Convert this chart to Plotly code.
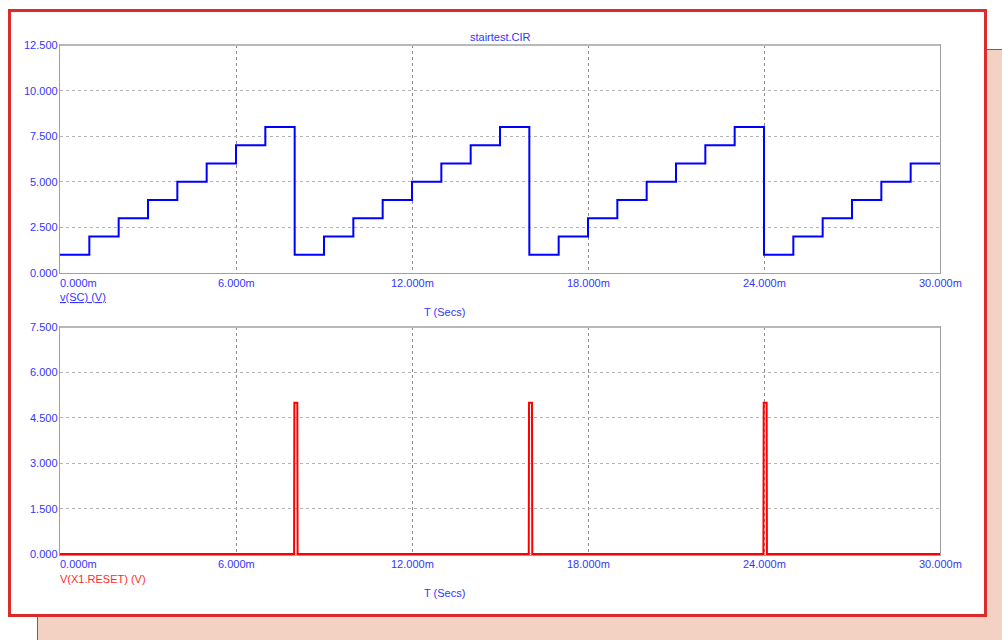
import plotly.graph_objects as go

# ---- data (time in ms) ----
sc_time = [0, 1, 2, 3, 4, 5, 6, 7, 8, 9, 10, 11, 12, 13, 14, 15, 16,
           17, 18, 19, 20, 21, 22, 23, 24, 25, 26, 27, 28, 29, 30]
sc_volts = [1, 2, 3, 4, 5, 6, 7, 8, 1, 2, 3, 4, 5, 6, 7, 8, 1,
            2, 3, 4, 5, 6, 7, 8, 1, 2, 3, 4, 5, 6, 6]

reset_time = [0, 7.98, 7.99, 8.09, 8.10,
              15.98, 15.99, 16.09, 16.10,
              23.98, 23.99, 24.09, 24.10, 30]
reset_volts = [0, 0, 5, 5, 0,
               0, 5, 5, 0,
               0, 5, 5, 0, 0]

x_ticks = [0, 6, 12, 18, 24, 30]
x_tick_text = ["0.000m", "6.000m", "12.000m", "18.000m", "24.000m", "30.000m"]
top_ticks = [0, 2.5, 5, 7.5, 10, 12.5]
top_tick_text = ["0.000", "2.500", "5.000", "7.500", "10.000", "12.500"]
bot_ticks = [0, 1.5, 3, 4.5, 6, 7.5]
bot_tick_text = ["0.000", "1.500", "3.000", "4.500", "6.000", "7.500"]

title_text = "stairtest.CIR"
x_title = "T (Secs)"
top_trace_name = "v(SC) (V)"
bot_trace_name = "V(X1.RESET) (V)"

# ---- layout geometry (pixels) ----
W, H = 1002, 640
L, R, T, B = 60, 940, 45, 555
PW, PH = R - L, B - T
TOP_BOTTOM = 273
BOT_TOP = 327

BLUE_TXT = "#3535ff"
RED_TXT = "#ff2a2a"
FONT = "Liberation Sans, Arial, sans-serif"


def px(x):
    return (x - L) / PW


def py(y):
    return (B - y) / PH


fig = go.Figure()
fig.add_trace(go.Scatter(x=sc_time, y=sc_volts, mode="lines", line_shape="hv",
                         line=dict(color="#0000ff", width=2),
                         xaxis="x", yaxis="y", showlegend=False, hoverinfo="skip"))
fig.add_trace(go.Scatter(x=reset_time, y=reset_volts, mode="lines",
                         line=dict(color="#ff0000", width=2),
                         xaxis="x2", yaxis="y2", showlegend=False, hoverinfo="skip"))

axis_common = dict(showticklabels=False, ticks="", zeroline=False,
                   showline=True, linecolor="#a0a0a0", linewidth=1, mirror=True)
fig.update_layout(
    width=W, height=H, autosize=False,
    margin=dict(l=L, r=W - R, t=T, b=H - B, pad=0),
    paper_bgcolor="white", plot_bgcolor="rgba(0,0,0,0)",
    xaxis=dict(domain=[0, 1], anchor="y", range=[0, 30], tickvals=x_ticks,
               showgrid=True, gridcolor="#8c8c8c", griddash="3px,3px", gridwidth=1,
               **axis_common),
    yaxis=dict(domain=[py(TOP_BOTTOM), 1], anchor="x", range=[0, 12.5], tickvals=top_ticks,
               showgrid=True, gridcolor="#b4b4b4", griddash="3px,3px", gridwidth=1,
               **axis_common),
    xaxis2=dict(domain=[0, 1], anchor="y2", range=[0, 30], tickvals=x_ticks,
                showgrid=True, gridcolor="#8c8c8c", griddash="3px,3px", gridwidth=1,
                **axis_common),
    yaxis2=dict(domain=[0, py(BOT_TOP)], anchor="x2", range=[-0.035, 7.5], tickvals=bot_ticks,
                showgrid=True, gridcolor="#b4b4b4", griddash="3px,3px", gridwidth=1,
                **axis_common),
)

# background panels: peach sheet behind a white, red-bordered window
shapes = [
    dict(type="rect", xref="paper", yref="paper", layer="below",
         x0=px(37.5), x1=px(1010), y0=py(49.5), y1=py(660),
         fillcolor="#f3d1c3", line=dict(color="#dd3535", width=1)),
    dict(type="rect", xref="paper", yref="paper", layer="below",
         x0=px(9.5), x1=px(985.5), y0=py(10.5), y1=py(615.5),
         fillcolor="white", line=dict(color="#dd2a2a", width=3)),
    # slightly heavier, lighter top edge on each plot frame
    dict(type="line", xref="paper", yref="paper", x0=0, x1=1, y0=1, y1=1,
         line=dict(color="#b8b8b8", width=2)),
    dict(type="line", xref="paper", yref="paper", x0=0, x1=1,
         y0=py(BOT_TOP), y1=py(BOT_TOP), line=dict(color="#b8b8b8", width=2)),
]
fig.update_layout(shapes=shapes)

ann = []
font_b = dict(family=FONT, size=11, color=BLUE_TXT)
font_r = dict(family=FONT, size=11, color=RED_TXT)

for v, t in zip(top_ticks, top_tick_text):
    ann.append(dict(x=px(58), y=v, xref="paper", yref="y", text=t, showarrow=False,
                    xanchor="right", yanchor="middle", font=font_b, xshift=2))
for v, t in zip(bot_ticks, bot_tick_text):
    ann.append(dict(x=px(58), y=v, xref="paper", yref="y2", text=t, showarrow=False,
                    xanchor="right", yanchor="middle", font=font_b, xshift=2))

for xref, ypx in (("x", 283), ("x2", 564)):
    for i, (v, t) in enumerate(zip(x_ticks, x_tick_text)):
        ann.append(dict(x=v, y=py(ypx), xref=xref, yref="paper", text=t, showarrow=False,
                        xanchor="left" if i == 0 else "center", yanchor="middle",
                        font=font_b, xshift=-2 if i == 0 else 0))

ann.append(dict(x=px(500), y=py(37), xref="paper", yref="paper", text=title_text,
                showarrow=False, xanchor="center", yanchor="middle", font=font_b))
ann.append(dict(x=px(60), y=py(297), xref="paper", yref="paper",
                text="<u>" + top_trace_name + "</u>", showarrow=False,
                xanchor="left", yanchor="middle", font=font_b, xshift=-2))
ann.append(dict(x=px(60), y=py(579), xref="paper", yref="paper", text=bot_trace_name,
                showarrow=False, xanchor="left", yanchor="middle", font=font_r, xshift=-2))
ann.append(dict(x=px(444), y=py(312), xref="paper", yref="paper", text=x_title,
                showarrow=False, xanchor="center", yanchor="middle", font=font_b))
ann.append(dict(x=px(444), y=py(593), xref="paper", yref="paper", text=x_title,
                showarrow=False, xanchor="center", yanchor="middle", font=font_b))
fig.update_layout(annotations=ann)

fig.write_html("out.html")
